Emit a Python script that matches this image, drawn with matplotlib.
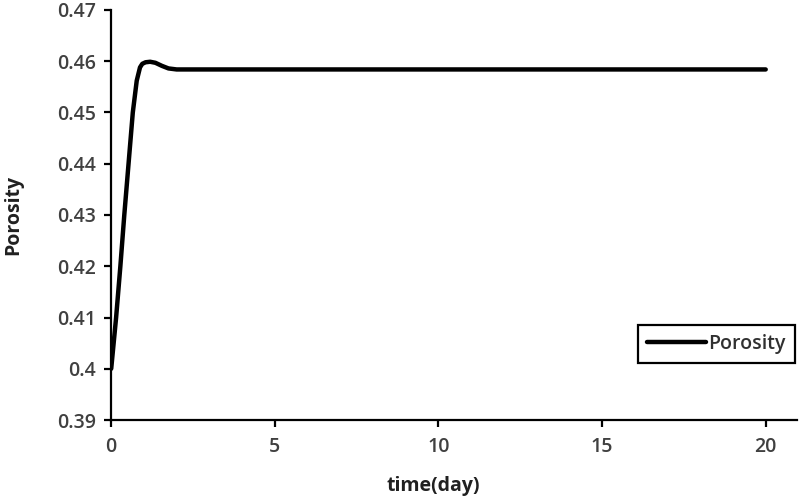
import matplotlib
matplotlib.use("Agg")
import matplotlib.pyplot as plt

# values
time_day = [0, 0.15, 0.28, 0.40, 0.53, 0.66, 0.78, 0.88, 0.95, 1.05, 1.19, 1.35, 1.55, 1.75, 2.0,
            5, 10, 15, 20]
porosity = [0.400, 0.410, 0.420, 0.430, 0.440, 0.450, 0.4562, 0.4588, 0.4595, 0.4598, 0.4599,
            0.4597, 0.4591, 0.4586, 0.4584, 0.4584, 0.4584, 0.4584, 0.4584]
x_ticks = [0, 5, 10, 15, 20]
y_ticks = [0.39, 0.40, 0.41, 0.42, 0.43, 0.44, 0.45, 0.46, 0.47]
y_tick_labels = ["0.39", "0.4", "0.41", "0.42", "0.43", "0.44", "0.45", "0.46", "0.47"]

plt.rcParams["font.family"] = ["Open Sans", "DejaVu Sans"]

fig = plt.figure(figsize=(8, 5), dpi=100)
ax = fig.add_axes([0.139, 0.16, 0.857, 0.82])

ax.plot(time_day, porosity, color="black", linewidth=3.2, label="Porosity",
        solid_capstyle="round", solid_joinstyle="round")

ax.set_xlim(0, 20.95)
ax.set_ylim(0.39, 0.47)
ax.set_xticks(x_ticks)
ax.set_yticks(y_ticks)
ax.set_yticklabels(y_tick_labels)

for s in ["top", "right"]:
    ax.spines[s].set_visible(False)
for s in ["left", "bottom"]:
    ax.spines[s].set_linewidth(1.6)
    ax.spines[s].set_color("black")

ax.tick_params(axis="both", direction="out", length=5, width=1.6, colors="black",
               labelsize=14, labelcolor="#404040")
ax.tick_params(axis="y", pad=6)
ax.tick_params(axis="x", pad=7)
for lab in ax.get_xticklabels() + ax.get_yticklabels():
    lab.set_fontweight("semibold")

ax.set_xlabel("time(day)", fontsize=14, fontweight="bold", color="#202020")
ax.set_ylabel("Porosity", fontsize=14, fontweight="bold", color="#202020")
ax.xaxis.set_label_coords(0.47, -0.137)
ax.yaxis.set_label_coords(-0.128, 0.5)

leg = ax.legend(loc="lower right", bbox_to_anchor=(0.997, 0.14), fancybox=False,
                edgecolor="black", framealpha=1, handlelength=3.0, fontsize=14,
                borderpad=0.45, handletextpad=0.15, borderaxespad=0)
leg.get_frame().set_linewidth(1.6)
for t in leg.get_texts():
    t.set_color("#303030")
    t.set_fontweight("semibold")

fig.savefig("out.png", dpi=100)
